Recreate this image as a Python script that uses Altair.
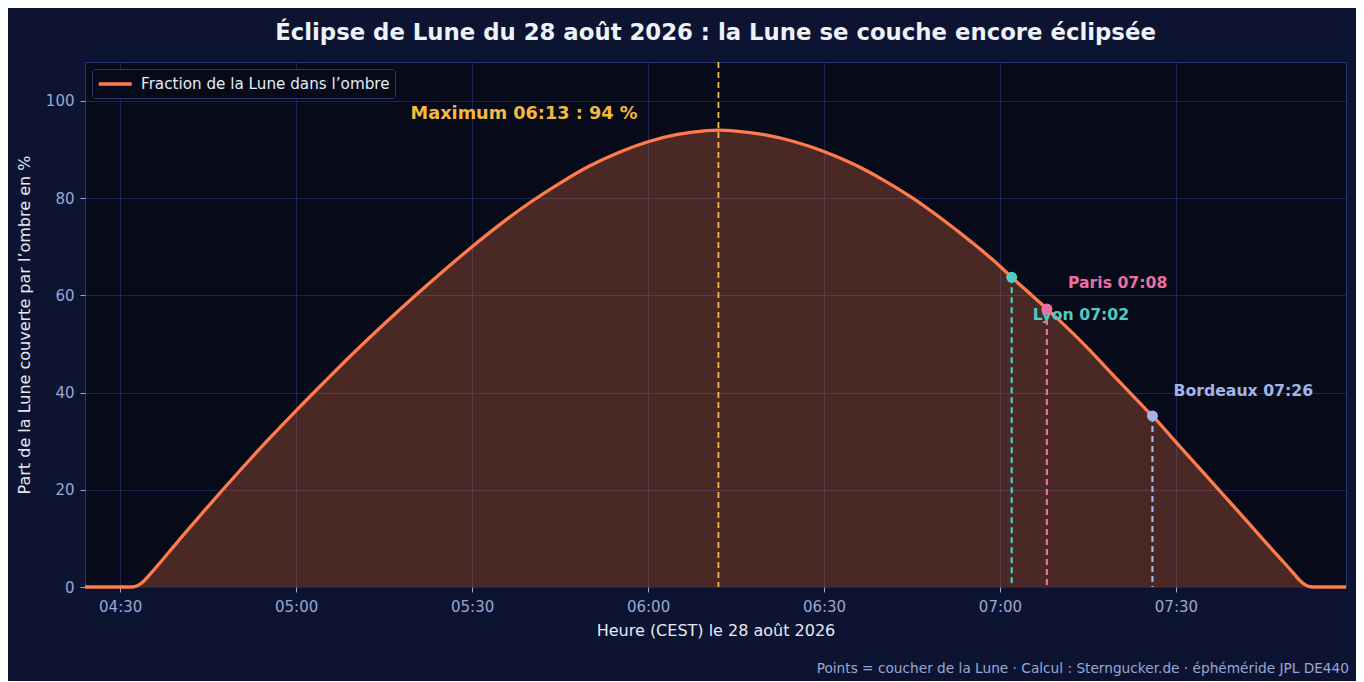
import altair as alt
import pandas as pd

DAY = "2026-08-28"

# fraction of the Moon inside the umbra
CURVE_TIMES = [
    "04:24", "04:32", "04:33", "04:34", "04:35", "04:40", "04:45", "04:50",
    "04:55", "05:00", "05:05", "05:10", "05:15", "05:20", "05:25", "05:30",
    "05:35", "05:40", "05:45", "05:50", "05:55", "06:00", "06:05", "06:10",
    "06:12", "06:15", "06:20", "06:25", "06:30", "06:35", "06:40", "06:45",
    "06:50", "06:55", "07:00", "07:02", "07:05", "07:08", "07:10", "07:15",
    "07:20", "07:25", "07:26", "07:30", "07:35", "07:40", "07:45", "07:48",
    "07:50", "07:51", "07:52", "07:53", "07:54", "07:59",
]
CURVE_VALUES = [
    0.0, 0.0, 0.3, 1.2, 2.5, 9.6, 16.6, 23.4,
    30.0, 36.3, 42.4, 48.4, 54.1, 59.6, 64.9, 70.0,
    74.8, 79.2, 83.1, 86.6, 89.4, 91.6, 93.1, 93.9,
    94.0, 93.8, 93.0, 91.6, 89.6, 87.0, 83.8, 80.1,
    75.8, 71.1, 66.0, 63.7, 60.5, 57.2, 55.0, 49.1,
    42.7, 36.4, 35.2, 29.8, 23.1, 16.4, 9.6, 5.6,
    2.9, 1.5, 0.5, 0.05, 0.0, 0.0,
]
SERIES_LABEL = "Fraction de la Lune dans l\u2019ombre"

# moonset per city
CITIES = ["Lyon", "Paris", "Bordeaux"]
CITY_TIMES = ["07:02", "07:08", "07:26"]
CITY_VALUES = [63.7, 57.2, 35.2]
CITY_COLORS = ["#4ecdc4", "#e96fa4", "#a3b4e6"]
CITY_DY = [38, -26, -25]

MAX_TIME = "06:12"
MAX_VALUE = 94.0
MAX_LABEL = "Maximum 06:13 : 94 %"

X_DOMAIN = ["04:24", "07:59"]
X_TICKS = ["04:30", "05:00", "05:30", "06:00", "06:30", "07:00", "07:30"]
Y_DOMAIN = [0, 108]
Y_TICKS = [0, 20, 40, 60, 80, 100]

TITLE = "\u00c9clipse de Lune du 28 ao\u00fbt 2026 : la Lune se couche encore \u00e9clips\u00e9e"
X_TITLE = "Heure (CEST) le 28 ao\u00fbt 2026"
Y_TITLE = "Part de la Lune couverte par l\u2019ombre en %"
CAPTION = ("Points = coucher de la Lune \u00b7 Calcul : Sterngucker.de \u00b7 "
           "\u00e9ph\u00e9m\u00e9ride JPL DE440")

CORAL = "#ff7b4b"
GOLD = "#f4b942"
FIG_BG = "#0d1431"
PLOT_BG = "#060a19"
TICK_TXT = "#9aa6d4"
W, H = 1261, 525


def ts(hm: str) -> str:
    return f"{DAY}T{hm}" if hm.count(":") == 2 else f"{DAY}T{hm}:00"


def dt(hm: str) -> alt.DateTime:
    h, m = hm.split(":")[:2]
    return alt.DateTime(year=2026, month=8, date=28, hours=int(h), minutes=int(m))


curve = pd.DataFrame({
    "heure": [ts(t) for t in CURVE_TIMES],
    "part": CURVE_VALUES,
    "serie": SERIES_LABEL,
})
cities = pd.DataFrame({
    "ville": CITIES,
    "heure": [ts(t) for t in CITY_TIMES],
    "part": CITY_VALUES,
    "label": [f"{c} {t}" for c, t in zip(CITIES, CITY_TIMES)],
})
peak = pd.DataFrame({"heure": [ts(MAX_TIME)], "part": [MAX_VALUE], "label": [MAX_LABEL]})

x_enc = alt.X(
    "heure:T",
    scale=alt.Scale(domain=[dt(X_DOMAIN[0]), dt(X_DOMAIN[1])]),
    axis=alt.Axis(
        values=[dt(t) for t in X_TICKS], format="%H:%M", title=X_TITLE,
        labelFontSize=15, labelPadding=7, titleFontSize=16, titlePadding=8,
        tickSize=5,
    ),
)
y_enc = alt.Y(
    "part:Q",
    scale=alt.Scale(domain=Y_DOMAIN, nice=False),
    axis=alt.Axis(
        values=Y_TICKS, title=Y_TITLE, labelFontSize=15, labelPadding=6,
        titleFontSize=16, titlePadding=13, tickSize=5,
    ),
)

area = alt.Chart(curve).mark_area(
    color=CORAL, opacity=0.27, interpolate="monotone"
).encode(x=x_enc, y=y_enc)

line = alt.Chart(curve).mark_line(strokeWidth=3.3, interpolate="monotone").encode(
    x="heure:T",
    y="part:Q",
    color=alt.Color(
        "serie:N",
        scale=alt.Scale(domain=[SERIES_LABEL], range=[CORAL]),
        legend=alt.Legend(
            title=None, orient="top-left", offset=7, padding=5,
            fillColor=PLOT_BG, strokeColor="#2b3870", cornerRadius=3,
            symbolType="M-1,0H3", symbolSize=272, symbolStrokeWidth=3.3,
            labelFontSize=15.2, labelColor="#e8ecf5", labelOffset=24,
            labelLimit=500,
        ),
    ),
)

peak_rule = alt.Chart(peak).mark_rule(
    color=GOLD, strokeWidth=1.8, strokeDash=[6, 4]
).encode(x="heure:T")
peak_text = alt.Chart(peak).mark_text(
    color=GOLD, fontSize=17.7, fontWeight="bold", align="right",
    baseline="middle", dx=-81, dy=-16,
).encode(x="heure:T", y="part:Q", text="label:N")

layers = [area, peak_rule, line, peak_text]
for name, col, dy in zip(CITIES, CITY_COLORS, CITY_DY):
    base = alt.Chart(cities).transform_filter(alt.datum.ville == name)
    layers.append(base.mark_rule(color=col, strokeWidth=2.2, strokeDash=[6, 4]).encode(
        x="heure:T", y="part:Q", y2=alt.datum(0)))
    layers.append(base.mark_circle(color=col, size=120, opacity=1).encode(
        x="heure:T", y="part:Q"))
    layers.append(base.mark_text(
        color=col, fontSize=15.7, fontWeight="bold", align="left",
        baseline="middle", dx=21, dy=dy,
    ).encode(x="heure:T", y="part:Q", text="label:N"))

caption = alt.Chart(peak).mark_text(
    color=TICK_TXT, fontSize=13.7, align="right", baseline="middle",
).encode(x=alt.value(W + 3), y=alt.value(H + 82), text=alt.value(CAPTION))
layers.append(caption)

chart = (
    alt.layer(*layers)
    .properties(
        width=W, height=H,
        title=alt.TitleParams(TITLE, fontSize=22.8, fontWeight="bold",
                              color="#eef2fb", anchor="middle", offset=16),
        autosize=alt.AutoSizeParams(type="none"),
        padding={"left": 77, "top": 54, "right": 10, "bottom": 94},
        usermeta={"embedOptions": {"defaultStyle": f"body{{background:{FIG_BG};}}"}},
    )
    .configure(font="DejaVu Sans", background=FIG_BG)
    .configure_view(fill=PLOT_BG, stroke="#2b3870", strokeWidth=1)
    .configure_axis(
        grid=True, gridColor="#1c2550", gridWidth=1, domain=False,
        tickColor=TICK_TXT, labelColor=TICK_TXT, titleColor="#e6eaf5",
        titleFontWeight="normal",
    )
)

chart.save("out.html", embed_options={"renderer": "svg", "actions": False})
